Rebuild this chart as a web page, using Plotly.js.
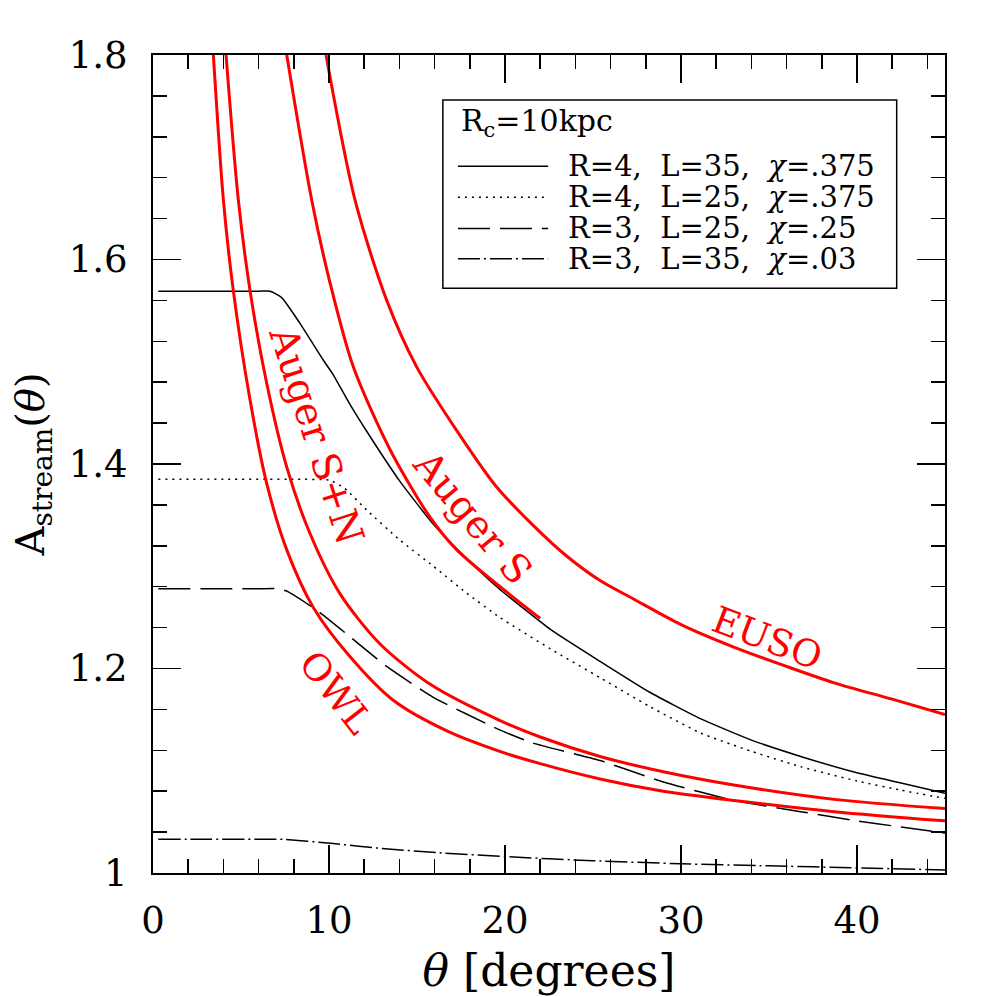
<!DOCTYPE html>
<html>
<head>
<meta charset="utf-8">
<script src="https://cdn.plot.ly/plotly-3.0.1.min.js"></script>
<style>
  body { margin: 0; background: #fff; }
  #chart { width: 997px; height: 997px; }
</style>
</head>
<body>
<div id="chart"></div>
<script>
// black curves: A_stream(theta) for the four stream models
var thetaR4L35 = [0.3, 3, 6, 6.65, 7.3, 8.35, 9.7, 10.25, 11.2, 12.14, 14.03, 15.93, 17.26, 19.6, 22.6, 25.4, 28.2, 31.1, 34, 36.8, 40, 42.5, 45];
var ampR4L35   = [1.569, 1.569, 1.569, 1.569, 1.563, 1.5376, 1.501, 1.487, 1.458, 1.432, 1.383, 1.341, 1.317, 1.279, 1.238, 1.207, 1.177, 1.151, 1.130, 1.114, 1.098, 1.088, 1.078];

var thetaR4L25 = [0.3, 4, 8, 10.06, 10.9, 12.14, 14.0, 15.93, 17.8, 19.7, 22.6, 25.4, 28.2, 31.1, 34, 36.8, 40, 42.5, 45];
var ampR4L25   = [1.385, 1.385, 1.385, 1.384, 1.376, 1.355, 1.326, 1.300, 1.274, 1.250, 1.219, 1.191, 1.163, 1.137, 1.119, 1.104, 1.090, 1.081, 1.073];

var thetaR3L25 = [0.3, 3, 6, 7.1, 7.69, 9.3, 11.2, 13.28, 15.9, 19.7, 21.6, 25.4, 29, 33, 36.8, 40, 42.5, 45];
var ampR3L25   = [1.278, 1.278, 1.278, 1.278, 1.275, 1.257, 1.231, 1.202, 1.172, 1.140, 1.127, 1.110, 1.089, 1.071, 1.060, 1.051, 1.045, 1.039];

var thetaR3L35 = [0.3, 3, 6, 7.4, 10.1, 13, 16.1, 20, 25, 30, 35, 40, 45];
var ampR3L35   = [1.033, 1.033, 1.033, 1.033, 1.029, 1.024, 1.020, 1.016, 1.012, 1.009, 1.007, 1.005, 1.003];

// red curves: experiment sensitivity
var thetaOWL = [3.43, 4.0, 4.56, 5.51, 6.46, 7.6, 9.1, 11.2, 13.65, 16.7, 19.7, 22, 25.4, 29, 33, 38.7, 45];
var ampOWL   = [1.80, 1.658, 1.570, 1.463, 1.381, 1.316, 1.260, 1.2115, 1.169, 1.139, 1.119, 1.107, 1.092, 1.080, 1.071, 1.060, 1.051];

var thetaSN = [4.15, 4.85, 5.51, 6.46, 7.6, 8.92, 10.63, 12.9, 15.8, 19.6, 22, 25.4, 29, 33, 38.7, 45];
var ampSN   = [1.80, 1.658, 1.570, 1.479, 1.397, 1.332, 1.273, 1.224, 1.184, 1.150, 1.133, 1.114, 1.099, 1.086, 1.072, 1.063];

var thetaAugerS = [7.6, 9.02, 10.06, 11.38, 13.47, 15.74, 17.26, 22.0];
var ampAugerS   = [1.80, 1.658, 1.577, 1.495, 1.414, 1.348, 1.316, 1.249];

var thetaEUSO = [9.83, 11.48, 13.28, 14.98, 17.44, 19.5, 21.6, 23.5, 25.4, 27.3, 30, 33, 36, 38.7, 42, 45];
var ampEUSO   = [1.80, 1.658, 1.560, 1.495, 1.428, 1.378, 1.340, 1.310, 1.286, 1.268, 1.243, 1.221, 1.202, 1.186, 1.170, 1.155];

var serif = 'DejaVu Serif, Liberation Serif, serif';

function black(x, y, dash) {
  return {x: x, y: y, mode: 'lines', type: 'scatter', showlegend: false,
          line: {color: '#000', width: 1.5, dash: dash, shape: 'spline', smoothing: 0.5}, hoverinfo: 'skip'};
}
function red(x, y) {
  return {x: x, y: y, mode: 'lines', type: 'scatter', showlegend: false,
          line: {color: '#ff0000', width: 3, shape: 'spline', smoothing: 0.8}, hoverinfo: 'skip'};
}

var plot = [
  black(thetaR4L35, ampR4L35, 'solid'),
  black(thetaR4L25, ampR4L25, '2px,5px'),
  black(thetaR3L25, ampR3L25, '32px,10px'),
  black(thetaR3L35, ampR3L35, '22px,4px,2px,4px'),
  red(thetaOWL, ampOWL),
  red(thetaSN, ampSN),
  red(thetaAugerS, ampAugerS),
  red(thetaEUSO, ampEUSO)
];

// hand-made legend box (paper coordinates)
var legendRows = [
  {text: 'R=4,\u00a0 L=35,\u00a0 <i>χ</i>=.375', dash: 'solid', y: 0.864},
  {text: 'R=4,\u00a0 L=25,\u00a0 <i>χ</i>=.375', dash: '2px,5px', y: 0.826},
  {text: 'R=3,\u00a0 L=25,\u00a0 <i>χ</i>=.25', dash: '32px,10px', y: 0.788},
  {text: 'R=3,\u00a0 L=35,\u00a0 <i>χ</i>=.03', dash: '22px,4px,2px,4px', y: 0.751}
];

var shapes = [{
  type: 'rect', xref: 'paper', yref: 'paper', x0: 0.366, x1: 0.939, y0: 0.715, y1: 0.945,
  line: {color: '#000', width: 1.5}, fillcolor: 'rgba(0,0,0,0)'
}];
var annotations = [{
  xref: 'paper', yref: 'paper', x: 0.386, y: 0.917, xanchor: 'left', yanchor: 'middle',
  text: 'R<sub>c</sub>=10kpc', showarrow: false, font: {family: serif, size: 30, color: '#000'}
}];
legendRows.forEach(function (r) {
  shapes.push({type: 'line', xref: 'paper', yref: 'paper', x0: 0.385, x1: 0.499, y0: r.y, y1: r.y,
               line: {color: '#000', width: 1.5, dash: r.dash}});
  annotations.push({xref: 'paper', yref: 'paper', x: 0.521, y: r.y, xanchor: 'left', yanchor: 'middle',
                    text: r.text, showarrow: false, font: {family: serif, size: 29, color: '#000'}});
});

// curve labels
function curveLabel(text, x, y, angle, size) {
  return {x: x, y: y, xref: 'x', yref: 'y', text: text, textangle: angle, showarrow: false,
          font: {family: serif, size: size, color: '#ff0000'}};
}
annotations.push(curveLabel('Auger S+N', 9.3, 1.428, 72, 39));
annotations.push(curveLabel('Auger S', 18.2, 1.348, 50, 39));
annotations.push(curveLabel('EUSO', 34.9, 1.229, 21, 37));
annotations.push(curveLabel('OWL', 10.4, 1.177, 52, 37));

var axisCommon = {
  showline: true, linecolor: '#000', linewidth: 2, mirror: 'allticks',
  ticks: 'inside', ticklen: 28, tickwidth: 1.5, tickcolor: '#000',
  showgrid: false, zeroline: false,
  tickfont: {family: serif, size: 37, color: '#000'}
};

var layout = {
  width: 997, height: 997,
  margin: {l: 153, r: 52, t: 55, b: 124},
  paper_bgcolor: '#fff', plot_bgcolor: '#fff',
  font: {family: serif, color: '#000'},
  showlegend: false,
  xaxis: Object.assign({}, axisCommon, {
    range: [0, 45], tick0: 0, dtick: 10, ticklabelstandoff: 14,
    minor: {dtick: 2, ticks: 'inside', ticklen: 14, tickwidth: 1.5, tickcolor: '#000', showgrid: false},
    title: {text: '<i>θ</i> [degrees]', font: {family: serif, size: 44, color: '#000'}, standoff: 14}
  }),
  yaxis: Object.assign({}, axisCommon, {
    range: [1, 1.8], tick0: 1, dtick: 0.2, ticklabelstandoff: 16,
    minor: {dtick: 0.04, ticks: 'inside', ticklen: 14, tickwidth: 1.5, tickcolor: '#000', showgrid: false},
    title: {text: 'A<sub>stream</sub>(<i>θ</i>)', font: {family: serif, size: 40, color: '#000'}, standoff: 12}
  }),
  shapes: shapes,
  annotations: annotations
};

Plotly.newPlot('chart', plot, layout, {staticPlot: true});
</script>
</body>
</html>
